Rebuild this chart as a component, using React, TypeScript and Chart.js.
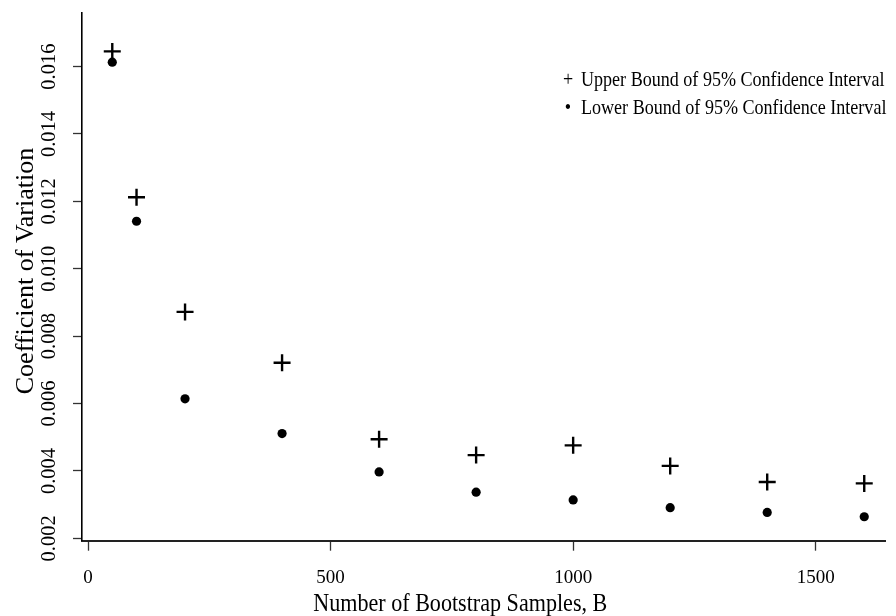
import React, { useEffect, useRef } from "react";
import { Chart, registerables } from "chart.js";

Chart.register(...registerables);

const bootstrapSamples = [50, 100, 200, 400, 600, 800, 1000, 1200, 1400, 1600];
const upperBound = [0.01645, 0.01212, 0.00872, 0.00721, 0.00494, 0.00447, 0.00476, 0.00415, 0.00367, 0.00363];
const lowerBound = [0.01613, 0.01141, 0.00614, 0.00511, 0.00397, 0.00337, 0.00314, 0.00291, 0.00277, 0.00264];
const xTickValues = [0, 500, 1000, 1500];
const yTickValues = [0.002, 0.004, 0.006, 0.008, 0.01, 0.012, 0.014, 0.016];
const seriesLabels = [
  "Upper Bound of 95% Confidence Interval",
  "Lower Bound of 95% Confidence Interval",
];
const legendSymbols = ["+", "•"];
const xTitle = "Number of Bootstrap Samples, B";
const yTitle = "Coefficient of Variation";

const SERIF = '"Liberation Serif", "Times New Roman", Times, serif';

const annotations = {
  id: "annotations",
  afterDraw(chart: any) {
    const { ctx, chartArea } = chart;
    ctx.save();
    ctx.fillStyle = "#000";
    ctx.textBaseline = "middle";

    // legend in the top-right corner of the plot (glyphs slightly taller than wide)
    const sx = 0.86;
    ctx.save();
    ctx.scale(sx, 1);
    ctx.font = `21px ${SERIF}`;
    const rows = [80, 108];
    chart.data.datasets.forEach((ds: any, i: number) => {
      ctx.textAlign = "center";
      ctx.fillText(legendSymbols[i], 568 / sx, rows[i]);
      ctx.textAlign = "left";
      ctx.fillText(ds.label, 581 / sx, rows[i]);
    });
    ctx.restore();

    // x axis title
    ctx.save();
    const tx = 0.85;
    ctx.scale(tx, 1);
    ctx.font = `26px ${SERIF}`;
    ctx.textAlign = "center";
    const cx = chartArea.left + (chartArea.right - chartArea.left) * 0.471;
    ctx.fillText(xTitle, cx / tx, 604);
    ctx.restore();

    // y axis title
    ctx.save();
    ctx.translate(26, 271);
    ctx.rotate(-Math.PI / 2);
    ctx.font = `26px ${SERIF}`;
    ctx.textAlign = "center";
    ctx.fillText(yTitle, 0, 0);
    ctx.restore();

    ctx.restore();
  },
};

export default function App() {
  const ref = useRef<HTMLCanvasElement>(null);

  useEffect(() => {
    if (!ref.current) return;
    const chart = new Chart(ref.current, {
      type: "scatter",
      data: {
        datasets: [
          {
            label: seriesLabels[0],
            data: bootstrapSamples.map((b, i) => ({ x: b, y: upperBound[i] })),
            pointStyle: "cross",
            pointRadius: 8.5,
            pointHoverRadius: 8.5,
            pointBorderWidth: 2.4,
            pointBorderColor: "#000",
            pointBackgroundColor: "#000",
            showLine: false,
          },
          {
            label: seriesLabels[1],
            data: bootstrapSamples.map((b, i) => ({ x: b, y: lowerBound[i] })),
            pointStyle: "circle",
            pointRadius: 4.6,
            pointHoverRadius: 4.6,
            pointBorderWidth: 0,
            pointBorderColor: "#000",
            pointBackgroundColor: "#000",
            showLine: false,
          },
        ],
      },
      options: {
        animation: false,
        responsive: true,
        maintainAspectRatio: false,
        layout: { padding: { top: 13, right: 5, left: 0, bottom: 0 } },
        plugins: {
          legend: { display: false },
          tooltip: { enabled: false },
        },
        scales: {
          x: {
            type: "linear",
            position: "bottom",
            min: -12.4,
            max: 1643,
            afterBuildTicks: (scale: any) => {
              scale.ticks = xTickValues.map((v) => ({ value: v }));
            },
            afterFit: (scale: any) => {
              scale.height = 75.3;
            },
            grid: {
              drawOnChartArea: false,
              drawTicks: true,
              tickLength: 10,
              tickColor: "#333",
              tickWidth: 1.3,
            },
            border: { display: true, color: "#222", width: 2 },
            ticks: {
              color: "#000",
              font: { family: SERIF, size: 19 },
              padding: 16,
              maxRotation: 0,
              minRotation: 0,
              callback: (v: any) => String(v),
            },
            title: { display: false, text: xTitle },
          },
          y: {
            type: "linear",
            min: 0.00193,
            max: 0.01759,
            afterBuildTicks: (scale: any) => {
              scale.ticks = yTickValues.map((v) => ({ value: v }));
            },
            afterFit: (scale: any) => {
              scale.width = 82;
            },
            grid: {
              drawOnChartArea: false,
              drawTicks: true,
              tickLength: 9,
              tickColor: "#333",
              tickWidth: 1.3,
            },
            border: { display: true, color: "#000", width: 1.6 },
            ticks: {
              color: "#000",
              font: { family: SERIF, size: 20.5 },
              padding: 0,
              minRotation: 90,
              maxRotation: 90,
              crossAlign: "center",
              callback: (v: any) => Number(v).toFixed(3),
            },
            title: { display: false, text: yTitle },
          },
        },
      },
      plugins: [annotations],
    } as any);
    return () => chart.destroy();
  }, []);

  return (
    <div
      style={{
        position: "fixed",
        left: 0,
        top: 0,
        width: 896,
        height: 616,
        background: "#fff",
      }}
    >
      <canvas ref={ref} />
    </div>
  );
}
